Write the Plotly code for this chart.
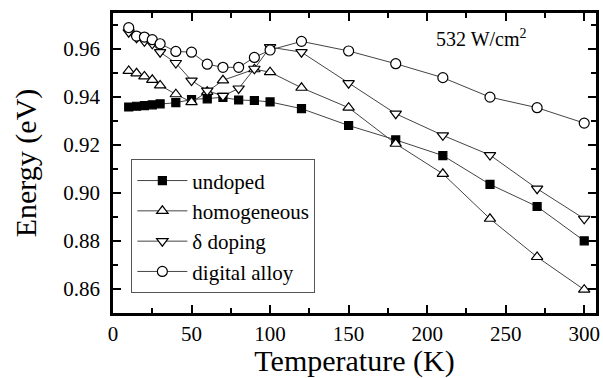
import plotly.graph_objects as go

T_all = [10, 15, 20, 25, 30, 40, 50, 60, 70, 80, 90, 100, 120, 150, 180, 210, 240, 270, 300]
T_homo = [10, 15, 20, 25, 30, 40, 50, 60, 70, 90, 100, 120, 150, 180, 210, 240, 270, 300]

undoped = [0.9357, 0.9360, 0.9363, 0.9366, 0.9370, 0.9375, 0.9388, 0.9391, 0.9397, 0.9386,
           0.9384, 0.9378, 0.9350, 0.9280, 0.9220, 0.9155, 0.9035, 0.8943, 0.8800]
homogeneous = [0.9507, 0.9497, 0.9484, 0.9470, 0.9447, 0.9410, 0.9377, 0.9420, 0.9468,
               0.9514, 0.9502, 0.9437, 0.9354, 0.9204, 0.9079, 0.8892, 0.8733, 0.8597]
delta_doping = [0.9668, 0.9645, 0.9630, 0.9620, 0.9585, 0.9540, 0.9467, 0.9425, 0.9403, 0.9434,
                0.9516, 0.9606, 0.9585, 0.9456, 0.9329, 0.9239, 0.9157, 0.9017, 0.8892]
digital_alloy = [0.9687, 0.9652, 0.9648, 0.9637, 0.9620, 0.9588, 0.9585, 0.9535, 0.9522, 0.9522,
                 0.9563, 0.9594, 0.9630, 0.9590, 0.9537, 0.9479, 0.9398, 0.9354, 0.9290]

x_ticks = [0, 50, 100, 150, 200, 250, 300]
y_ticks = [0.86, 0.88, 0.90, 0.92, 0.94, 0.96]

FONT = "Liberation Serif, Times New Roman, serif"
LINE = dict(color="#444444", width=1)

fig = go.Figure()
series = [
    ("undoped", T_all, undoped, "square", "black", 8),
    ("homogeneous", T_homo, homogeneous, "triangle-up", "white", 10),
    ("δ doping", T_all, delta_doping, "triangle-down", "white", 10),
    ("digital alloy", T_all, digital_alloy, "circle", "white", 10),
]
for name, xs, ys, sym, fill, size in series:
    fig.add_trace(go.Scatter(
        x=xs, y=ys, name=name, mode="lines+markers",
        line=LINE,
        marker=dict(symbol=sym, size=size, color=fill,
                    line=dict(color="black", width=1.2)),
    ))

axis_common = dict(
    showline=True, linewidth=2.5, linecolor="black", mirror="allticks",
    ticks="inside", ticklen=8, tickwidth=2, tickcolor="black",
    showgrid=False, zeroline=False, automargin=False,
    tickfont=dict(family=FONT, size=21, color="black"),
)

fig.update_xaxes(
    range=[0, 307.5], tickvals=x_ticks, ticktext=[str(v) for v in x_ticks],
    minor=dict(ticks="inside", dtick=25, tick0=0, ticklen=5, tickwidth=1.5, tickcolor="black"),
    title=dict(text="Temperature (K)", font=dict(family=FONT, size=30, color="black"), standoff=16),
    **axis_common,
)
fig.update_yaxes(
    range=[0.85, 0.9748], tickvals=y_ticks, ticktext=[f"{v:.2f}" for v in y_ticks],
    minor=dict(ticks="inside", dtick=0.01, tick0=0.85, ticklen=5, tickwidth=1.5, tickcolor="black"),
    title=dict(text="Energy (eV)", font=dict(family=FONT, size=30, color="black"), standoff=18),
    ticklabelstandoff=6,
    **axis_common,
)

fig.add_annotation(
    x=0.762, y=0.915, xref="paper", yref="paper", showarrow=False,
    xanchor="center", yanchor="middle",
    text="532 W/cm<sup>2</sup>", font=dict(family=FONT, size=20, color="black"),
)

fig.update_layout(
    width=603, height=378,
    margin=dict(l=113, r=7, t=13, b=65),
    paper_bgcolor="white", plot_bgcolor="white",
    font=dict(family=FONT, color="black"),
    legend=dict(
        x=0.038, y=0.512, xanchor="left", yanchor="top",
        bordercolor="#555555", borderwidth=1, bgcolor="white",
        font=dict(family=FONT, size=21, color="black"),
        tracegroupgap=0, itemwidth=50,
    ),
    showlegend=True,
)

fig.write_html("out.html")
